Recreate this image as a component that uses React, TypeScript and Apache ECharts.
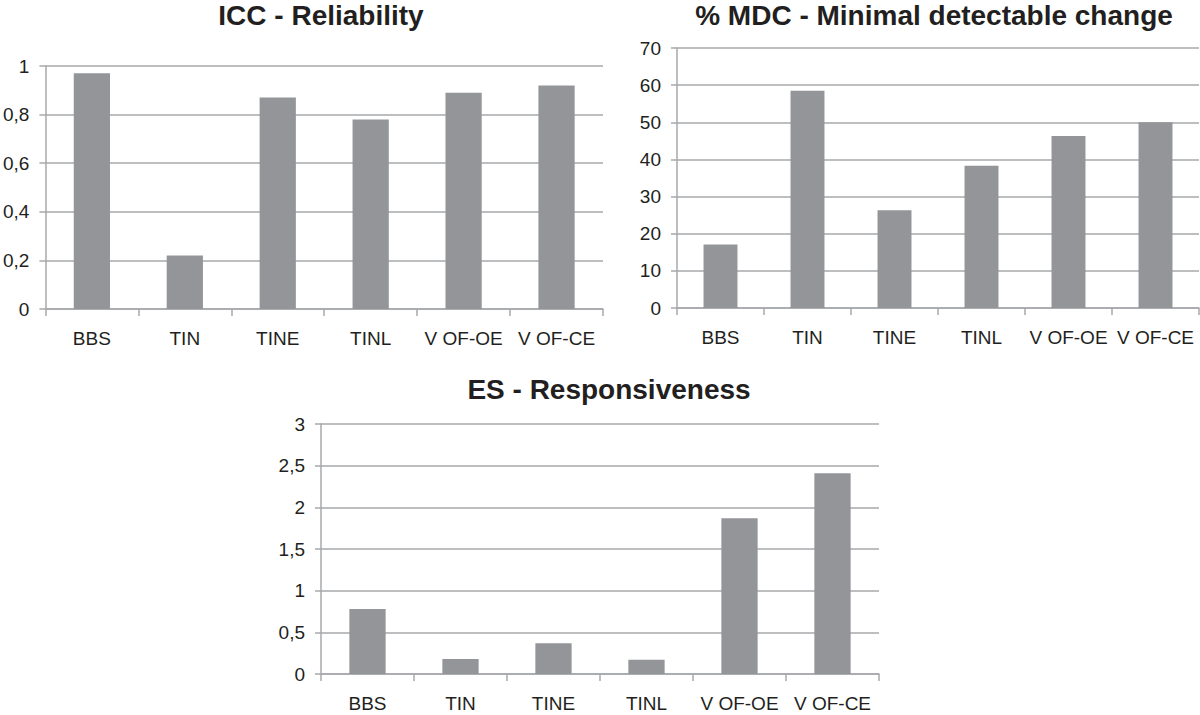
import React, { useEffect, useRef } from "react";
import * as echarts from "echarts";

const categories = ["BBS", "TIN", "TINE", "TINL", "V OF-OE", "V OF-CE"];
const iccValues = [0.97, 0.22, 0.87, 0.78, 0.89, 0.92];
const mdcValues = [17.1, 58.5, 26.3, 38.3, 46.3, 50.0];
const esValues = [0.78, 0.18, 0.37, 0.17, 1.87, 2.41];
const titles = ["ICC - Reliability", "% MDC - Minimal detectable change", "ES - Responsiveness"];
const yMax = [1, 70, 3];
const yInterval = [0.2, 10, 0.5];

const FONT = "'Liberation Sans', Arial, Helvetica, sans-serif";
const TEXT = "#231f20";
const LINE = "#a6a8ab";
const BAR = "#939598";

const fmt = (v: number) => String(Number(v.toFixed(2))).replace(".", ",");

export default function App() {
  const ref = useRef<HTMLDivElement>(null);
  useEffect(() => {
    document.body.style.margin = "0";
    const chart = echarts.init(ref.current!, null, { renderer: "svg" });
    const grids = [
      { left: 42, top: 66, width: 561, height: 243 },
      { left: 677, top: 48, width: 522, height: 260 },
      { left: 321, top: 424, width: 558, height: 250 },
    ];
    const dataSets = [iccValues, mdcValues, esValues];
    const titlePos = [
      [321, 15],
      [934, 15],
      [609, 389],
    ];
    chart.setOption({
      animation: false,
      backgroundColor: "#ffffff",
      grid: grids.map((g) => ({ ...g, containLabel: false })),
      xAxis: grids.map((_, i) => ({
        type: "category",
        gridIndex: i,
        data: categories,
        axisLine: { show: true, lineStyle: { color: LINE, width: 1.5 } },
        axisTick: { show: true, length: 7, lineStyle: { color: LINE, width: 1.5 } },
        axisLabel: { color: TEXT, fontSize: 19, fontFamily: FONT, margin: 20, interval: 0 },
        splitLine: { show: false },
      })),
      yAxis: grids.map((_, i) => ({
        type: "value",
        gridIndex: i,
        min: 0,
        max: yMax[i],
        interval: yInterval[i],
        axisLine: { show: true, lineStyle: { color: LINE, width: 1.5 } },
        axisTick: { show: true, length: 6, lineStyle: { color: LINE, width: 1.5 } },
        axisLabel: { color: TEXT, fontSize: 19, fontFamily: FONT, margin: 16, formatter: fmt },
        splitLine: { show: true, lineStyle: { color: LINE, width: 1.5 } },
      })),
      series: dataSets.map((d, i) => ({
        type: "bar",
        xAxisIndex: i,
        yAxisIndex: i,
        data: d,
        barWidth: "39%",
        itemStyle: { color: BAR },
        silent: true,
      })),
      graphic: titles.map((t, i) => ({
        type: "text",
        x: titlePos[i][0],
        y: titlePos[i][1],
        style: {
          text: t,
          fill: TEXT,
          font: `bold 28px ${FONT}`,
          align: "center",
          verticalAlign: "middle",
        },
      })),
    });
    return () => chart.dispose();
  }, []);
  return <div ref={ref} style={{ width: 1200, height: 715 }} />;
}
